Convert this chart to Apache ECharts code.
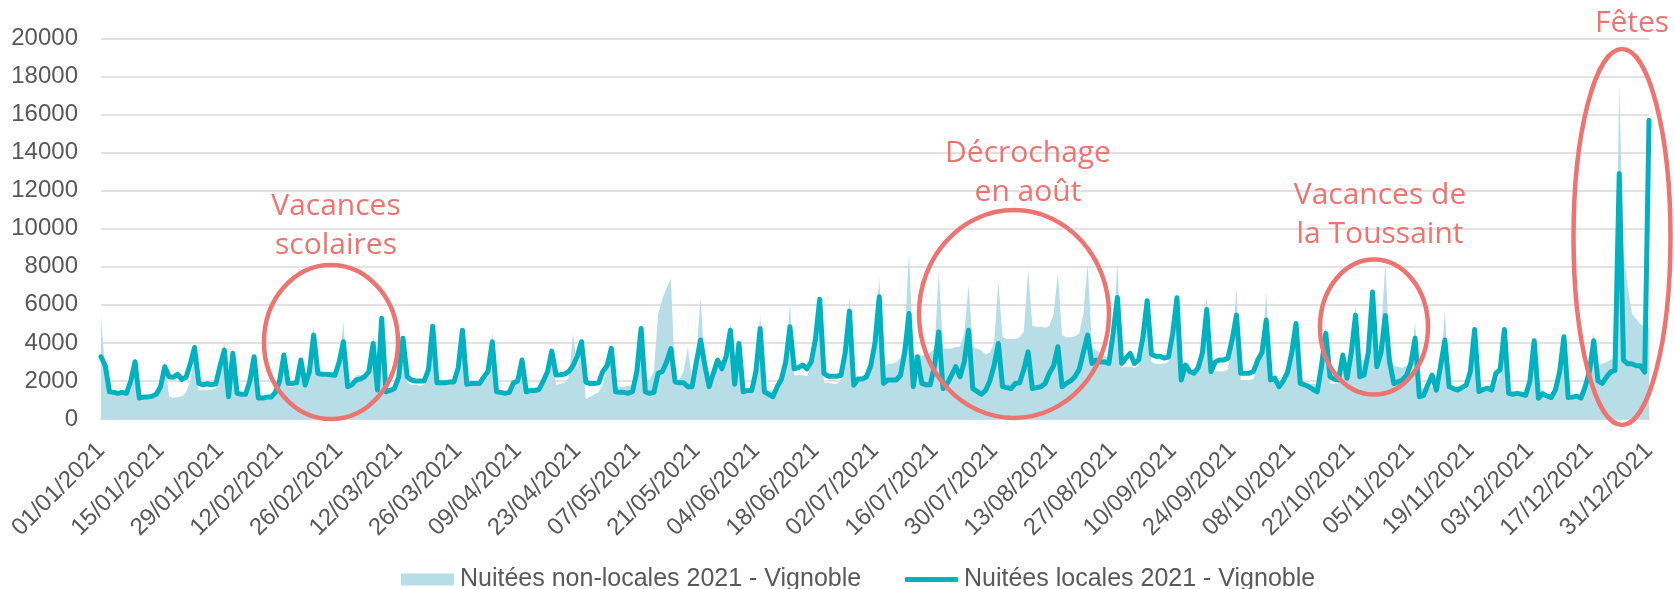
<!DOCTYPE html>
<html><head><meta charset="utf-8">
<script src="https://cdn.jsdelivr.net/npm/echarts@6/dist/echarts.min.js"></script>
<style>html,body{margin:0;padding:0;background:#fff;}#c{width:1675px;height:589px;}</style>
</head><body><div id="c"></div>
<script>
// Daily values 2021, one row per week (Fri..Thu), last value = 31/12
const nonLocal = [
5370,2500,1350,1300,1300,1350,1300,
1500,2800,1100,1050,1100,1100,1200,
1500,3010,1200,1100,1150,1200,1400,
2000,3500,1500,1550,1500,1550,1600,
2500,4060,1150,3200,1300,1250,1250,
1800,3100,1050,1050,1100,1100,1300,
1800,3000,1700,1700,1750,2900,1650,
2400,4900,2300,2350,2350,2300,2400,
2800,5100,1800,1900,2300,2300,2400,
2400,4500,1500,4600,1350,1400,1500,
1800,4000,1900,1800,1800,1750,1800,
2300,4700,1800,1800,1800,1850,1850,
2500,4500,1700,1750,1750,1800,2000,
2200,4580,1400,1350,1300,1350,1700,
1900,3000,1400,1500,1500,1550,1800,
2400,3600,1800,1850,1900,2200,4500,
2600,3900,1050,1150,1300,1400,1800,
2600,3600,1700,1700,1700,1750,1800,
2300,5100,2050,2050,2500,5500,6300,
6900,7400,2000,2100,2500,3800,2000,
3500,6330,2500,1800,1800,2900,2500,
3000,5020,1800,3700,1500,1500,1500,
2500,5460,1600,1500,1500,1800,2200,
2800,6070,2300,2300,2300,2250,2800,
3500,6000,1900,1900,1850,1850,2000,
3300,6420,2000,2000,2100,2200,3000,
4500,7470,2700,2900,2900,3000,3200,
4500,8700,3300,3400,3300,3400,3500,
3700,7730,3700,3700,3700,3800,3800,
4500,7040,3800,3700,3600,3400,3500,
4000,7210,4300,4200,4200,4200,4300,
4600,7820,4900,4850,4850,4800,4900,
5500,7650,4400,4300,4300,4350,4500,
5500,8170,3800,3600,3500,3300,3200,
4500,8170,2750,2750,2750,2700,2800,
3500,6000,3000,2900,2900,2900,3000,
4500,6680,2600,2600,2550,2550,2600,
4500,6420,2500,2500,2500,2500,2600,
4000,6860,2050,2050,2050,2100,2800,
3500,6680,1900,1900,1850,1850,2200,
3000,5000,1870,1870,1850,1850,1850,
2800,4850,1870,1870,1870,2900,2000,
3500,5985,3100,3100,3500,6000,3000,
4500,8170,3500,2800,2750,2700,2800,
2800,5110,1700,1600,1600,1700,1550,
2500,5720,1550,1500,1500,1500,1600,
2300,4400,1400,1450,1500,1450,1800,
2300,4400,1250,1200,1200,1200,1250,
1800,3800,1000,1100,1050,1000,1300,
2200,4000,1000,1050,1100,1050,1600,
2600,4500,2800,2900,3000,3100,3300,
17500,8700,6950,5550,5250,5000,4850,
4800
];
const local = [
3270,2800,1430,1400,1350,1400,1350,
2000,3010,1100,1150,1150,1200,1300,
1700,2750,2220,2200,2350,2080,2200,
2900,3760,1870,1800,1850,1800,1850,
2800,3620,1170,3460,1350,1300,1300,
2000,3270,1100,1100,1150,1150,1400,
2000,3360,1870,1870,1900,3100,1785,
2500,4410,2400,2350,2350,2330,2300,
3000,4060,1700,1800,2050,2100,2220,
2500,3970,1520,5290,1430,1500,1600,
2200,4240,2220,2050,2000,2000,2000,
2600,4880,1900,1900,1900,1950,1950,
2700,4670,1830,1860,1860,1860,2200,
2500,4060,1430,1400,1350,1400,1900,
2000,3100,1430,1500,1500,1550,2000,
2500,3570,2310,2330,2360,2500,2800,
3300,4060,1940,1860,1860,1900,2500,
2800,3710,1430,1400,1400,1350,1450,
2500,4760,1430,1350,1400,2400,2500,
3000,3700,1960,1900,1900,1700,1700,
3000,4150,2800,1700,2400,3100,2640,
3300,4670,1830,3970,1430,1500,1500,
2500,4760,1430,1300,1170,1700,2100,
3000,4850,2640,2700,2840,2640,3000,
4200,6300,2400,2250,2250,2250,2300,
3500,5670,1780,2100,2100,2220,2800,
4000,6420,1870,2050,2050,2050,2300,
3500,5550,1700,3270,1870,1800,1800,
2800,4580,1600,1870,2300,2750,2220,
3000,4670,1600,1450,1300,1500,2000,
2800,3970,1700,1650,1600,1870,1900,
2600,3530,1600,1650,1700,1870,2400,
2800,3800,1700,1870,2000,2220,2600,
3500,4410,2920,3100,3000,3000,2920,
4500,6390,2920,3200,3450,2920,3100,
4300,6210,3400,3300,3300,3200,3250,
4500,6370,2050,2840,2500,2400,2700,
3500,5760,2490,3000,3100,3100,3200,
4200,5460,2400,2400,2400,2500,3100,
3500,5200,2050,2150,1700,2000,2450,
3500,5020,1870,1800,1700,1550,1430,
2800,4500,2220,2100,2050,3360,2140,
3500,5460,2220,2310,3500,6680,2750,
3500,5440,3000,1860,1950,2050,2300,
2920,4240,1170,1240,1800,2310,1520,
2800,4150,1700,1600,1520,1650,1780,
2500,4700,1440,1550,1620,1520,2400,
2600,4700,1350,1300,1350,1300,1250,
2000,4110,1090,1340,1200,1130,1520,
2500,4320,1130,1150,1200,1100,1700,
2500,4110,2000,1870,2200,2480,2550,
12900,3100,2900,2900,2800,2800,2470,
15700
];
const seriesNames = ['Nuitées non-locales 2021 - Vignoble', 'Nuitées locales 2021 - Vignoble'];
const yMin = 0, yMax = 20000, yStep = 2000;
const labelEvery = 14;
// category labels: every day of 2021, dd/mm/yyyy
const dates = [];
for (let i = 0; i < 365; i++) {
  const d = new Date(Date.UTC(2021, 0, 1 + i));
  const dd = String(d.getUTCDate()).padStart(2, '0');
  const mm = String(d.getUTCMonth() + 1).padStart(2, '0');
  dates.push(dd + '/' + mm + '/' + d.getUTCFullYear());
}
const annotations = [
  {text: 'Vacances\nscolaires', x: 336, y: 226, cx: 331, cy: 342, rx: 67, ry: 77},
  {text: 'Décrochage\nen août', x: 1028, y: 173, cx: 1014, cy: 314, rx: 95, ry: 104},
  {text: 'Vacances de\nla Toussaint', x: 1380, y: 215, cx: 1374, cy: 327, rx: 54, ry: 67.5},
  {text: 'Fêtes', x: 1632, y: 23, cx: 1622, cy: 237, rx: 48.5, ry: 188}
];
const RED = '#EE7471';
const AXISFONT = '"Liberation Sans", Arial, sans-serif';

const chart = echarts.init(document.getElementById('c'), null, {renderer: 'canvas'});
const graphics = [];
annotations.forEach(a => {
  graphics.push({type: 'ellipse', shape: {cx: a.cx, cy: a.cy, rx: a.rx, ry: a.ry},
    style: {fill: 'none', stroke: RED, lineWidth: 4.5}, z: 100});
  graphics.push({type: 'text', x: a.x, y: a.y, z: 101,
    style: {text: a.text, fill: RED, font: '30px "Open Sans"', fontSize: 30, fontFamily: 'Open Sans',
      textAlign: 'center', textVerticalAlign: 'middle', align: 'center', verticalAlign: 'middle', lineHeight: 39}});
});
chart.setOption({
  animation: false,
  grid: {left: 101, right: 26, top: 38.5, bottom: 170, containLabel: false},
  xAxis: {
    type: 'category', data: dates, boundaryGap: false,
    axisLine: {show: true, lineStyle: {color: '#d9d9d9', width: 2}},
    axisTick: {show: false},
    axisLabel: {interval: labelEvery - 1, rotate: 45, fontSize: 24, color: '#595959', fontFamily: AXISFONT,
      margin: 28}
  },
  yAxis: {
    type: 'value', min: yMin, max: yMax, interval: yStep,
    axisLine: {show: false}, axisTick: {show: false},
    splitLine: {lineStyle: {color: '#d9d9d9', width: 1.6}},
    axisLabel: {fontSize: 24, color: '#595959', fontFamily: AXISFONT, margin: 23, formatter: v => String(v)}
  },
  legend: [
    {data: [{name: seriesNames[0], icon: 'rect'}], left: 396, top: 562, itemWidth: 53, itemHeight: 12, itemGap: 0,
      textStyle: {fontSize: 25, color: '#595959', fontFamily: AXISFONT, padding: [0,0,0,1]}},
    {data: [{name: seriesNames[1], icon: 'roundRect'}], left: 900, top: 562, itemWidth: 53, itemHeight: 5, itemGap: 0,
      textStyle: {fontSize: 25, color: '#595959', fontFamily: AXISFONT, padding: [0,0,0,1]}}
  ],
  series: [
    {name: seriesNames[0], type: 'line', data: nonLocal, symbol: 'none', z: 1,
      lineStyle: {width: 0, color: '#B7DDE7'}, itemStyle: {color: '#B7DDE7'},
      areaStyle: {color: '#B7DDE7', opacity: 1}},
    {name: seriesNames[1], type: 'line', data: local, symbol: 'none', z: 2,
      lineStyle: {width: 5, color: '#00B2BF', join: 'round', cap: 'round'}, itemStyle: {color: '#00B2BF'}}
  ],
  graphic: {elements: graphics}
});
</script></body></html>
